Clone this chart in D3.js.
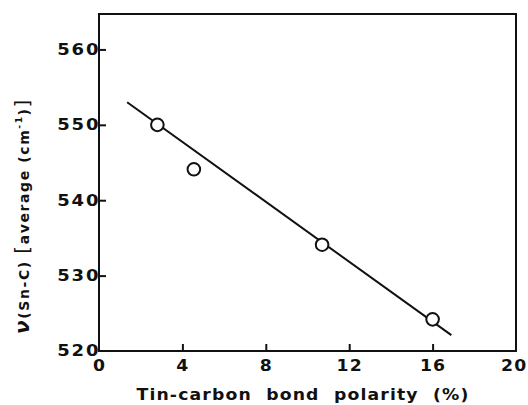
<!DOCTYPE html>
<html>
<head>
<meta charset="UTF-8">
<script src="https://d3js.org/d3.v7.min.js"></script>
<style>
  body { margin: 0; background: #fff; }
  svg { display: block; }
  text { font-family: "DejaVu Sans", sans-serif; fill: #111; white-space: pre; }
</style>
</head>
<body>
<svg id="chart" width="528" height="405"></svg>
<script>
// measured points
const polarity = [2.8, 4.55, 10.7, 16.0];
const freq = [550, 544.1, 534.1, 524.2];
// fitted line end points
const lineX = [1.35, 16.9];
const lineY = [553.0, 522.1];
const xTicks = [0, 4, 8, 12, 16, 20];
const yTicks = [520, 530, 540, 550, 560];

const svg = d3.select("#chart");
const plotL = 99, plotR = 516, plotT = 14, plotB = 351;

const x = d3.scaleLinear().domain([0, 20]).range([plotL, plotR]);
const y = d3.scaleLinear().domain([520, 564.7]).range([plotB, plotT]);

// frame
svg.append("rect")
  .attr("x", plotL).attr("y", plotT)
  .attr("width", plotR - plotL).attr("height", plotB - plotT)
  .attr("fill", "none").attr("stroke", "#111").attr("stroke-width", 2);

// x axis ticks (inward)
const xAxis = d3.axisBottom(x).tickValues(xTicks).tickSize(-7).tickPadding(9);
const gx = svg.append("g").attr("transform", `translate(0,${plotB})`).call(xAxis);
gx.select(".domain").remove();
gx.selectAll(".tick line").attr("stroke", "#111").attr("stroke-width", 2);
gx.selectAll(".tick line").filter(d => d === 0 || d === 20).remove();
gx.selectAll(".tick text")
  .attr("font-size", 15).attr("font-weight", "bold")
  .attr("letter-spacing", 1)
  .attr("transform", "scale(1.15,1)")
  .attr("fill", "#111");
gx.selectAll(".tick").filter(d => d === 20).select("text").attr("dx", -2);

// y axis ticks (inward)
const yAxis = d3.axisLeft(y).tickValues(yTicks).tickSize(-7).tickPadding(-1);
const gy = svg.append("g").attr("transform", `translate(${plotL},0)`).call(yAxis);
gy.select(".domain").remove();
gy.selectAll(".tick line").attr("stroke", "#111").attr("stroke-width", 2);
gy.selectAll(".tick line").filter(d => d === 520).remove();
gy.selectAll(".tick text")
  .attr("font-size", 15).attr("font-weight", "bold")
  .attr("letter-spacing", 1.5)
  .attr("transform", "scale(1.2,1)")
  .attr("fill", "#111");

// fitted line
svg.append("line")
  .attr("x1", x(lineX[0])).attr("y1", y(lineY[0]))
  .attr("x2", x(lineX[1])).attr("y2", y(lineY[1]))
  .attr("stroke", "#111").attr("stroke-width", 2);

// points
svg.selectAll("circle.pt")
  .data(polarity.map((p, i) => [p, freq[i]]))
  .join("circle")
  .attr("class", "pt")
  .attr("cx", d => x(d[0])).attr("cy", d => y(d[1]))
  .attr("r", 6.3)
  .attr("fill", "#fff").attr("stroke", "#111").attr("stroke-width", 2);

// x title
svg.append("text")
  .attr("transform", "translate(303,400) scale(1.15,1)")
  .attr("text-anchor", "middle")
  .attr("font-size", 15).attr("font-weight", "bold")
  .attr("letter-spacing", 1)
  .text("Tin-carbon  bond  polarity  (%)");

// y title
const yt = svg.append("text")
  .attr("transform", `translate(29,${(98 + 334) / 2}) rotate(-90)`)
  .attr("text-anchor", "middle")
  .attr("font-size", 14).attr("font-weight", "bold")
  .attr("letter-spacing", 1.6);
yt.append("tspan").attr("font-style", "italic").attr("font-size", 20).text("ν");
yt.append("tspan").text("(Sn-C) ");
yt.append("tspan").attr("font-size", 20).attr("font-weight", "normal").text("[");
yt.append("tspan").text("average (cm");
yt.append("tspan").attr("font-size", 9).attr("dy", -7).text("-1");
yt.append("tspan").attr("dy", 7).text(")");
yt.append("tspan").attr("font-size", 20).attr("font-weight", "normal").text("]");
</script>
</body>
</html>
